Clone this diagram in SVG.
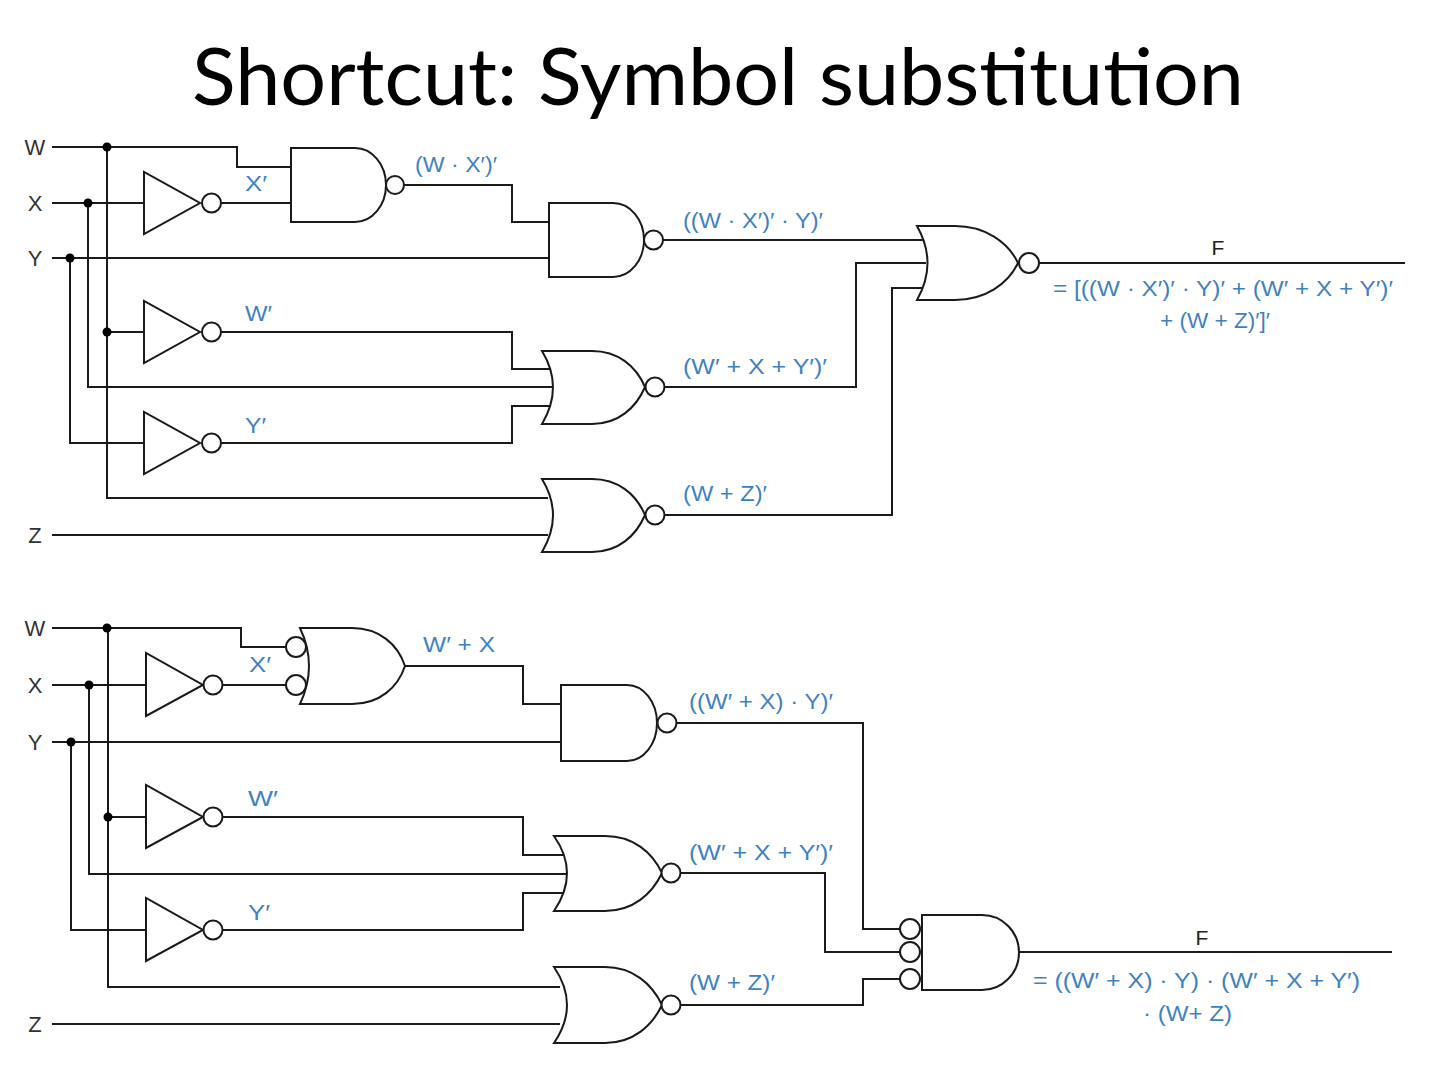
<svg xmlns="http://www.w3.org/2000/svg" width="1440" height="1080" viewBox="0 0 1440 1080">
<style>
.w{fill:none;stroke:#1a1a1a;stroke-width:2}
.g{fill:#fff;stroke:#1a1a1a;stroke-width:2}
.dot{fill:#000}
.lbl{font-family:"Liberation Sans",Arial,sans-serif;font-size:22px;fill:#3f82c4}
.in{font-family:"Liberation Sans",Arial,sans-serif;font-size:22px;fill:#333;text-anchor:middle}
.f{font-family:"Liberation Sans",Arial,sans-serif;font-size:21px;fill:#222;text-anchor:middle}
.title{font-family:Lato,"Open Sans",sans-serif;font-size:80px;fill:#000;text-anchor:middle}
</style>
<defs>
<g id="invT"><path class="g" d="M0,-31 L0,31 L56,0 Z"/><circle class="g" cx="67.5" cy="0" r="9.5"/></g>
<g id="invB"><path class="g" d="M0,-32 L0,31 L57,0 Z"/><circle class="g" cx="67" cy="0" r="9.5"/></g>
</defs>
<rect width="1440" height="1080" fill="#fff"/>
<text class="title" x="718" y="105" textLength="1052" lengthAdjust="spacingAndGlyphs">Shortcut: Symbol substitution</text>

<g id="connectors">
<!-- top circuit -->
<path class="w" d="M52,147 H237 V167 H292"/>
<path class="w" d="M52,203 H144"/>
<path class="w" d="M52,258 H550"/>
<path class="w" d="M52,535 H548"/>
<path class="w" d="M70,258 V443 H144"/>
<path class="w" d="M88,203 V387 H553"/>
<path class="w" d="M107,147 V498 H548"/>
<path class="w" d="M107,332 H144"/>
<path class="w" d="M221,203 H292"/>
<path class="w" d="M404,185 H512 V222 H550"/>
<path class="w" d="M663,240 H924"/>
<path class="w" d="M221,332 H512 V369 H551"/>
<path class="w" d="M221,443 H512 V406 H551"/>
<path class="w" d="M664,387 H856 V263 H926"/>
<path class="w" d="M664,515 H892 V288 H924"/>
<path class="w" d="M1039,263 H1405"/>
<!-- bottom circuit -->
<path class="w" d="M52,628 H241 V647 H286"/>
<path class="w" d="M52,685 H146"/>
<path class="w" d="M52,742 H562"/>
<path class="w" d="M52,1024 H560"/>
<path class="w" d="M71,742 V930 H146"/>
<path class="w" d="M89,685 V874 H566"/>
<path class="w" d="M108,628 V987 H560"/>
<path class="w" d="M108,817 H146"/>
<path class="w" d="M222,685 H286"/>
<path class="w" d="M405,666 H523 V704 H562"/>
<path class="w" d="M677,723 H863 V929 H900"/>
<path class="w" d="M222,817 H523 V855 H563"/>
<path class="w" d="M222,930 H523 V893 H563"/>
<path class="w" d="M680,873 H825 V952 H900"/>
<path class="w" d="M680,1005 H863 V979 H900"/>
<path class="w" d="M1019,952 H1392"/>
<!-- junction dots -->
<circle class="dot" cx="107" cy="147" r="4.5"/>
<circle class="dot" cx="88" cy="203" r="4.5"/>
<circle class="dot" cx="70" cy="258" r="4.5"/>
<circle class="dot" cx="107" cy="332" r="4.5"/>
<circle class="dot" cx="107" cy="628" r="4.5"/>
<circle class="dot" cx="89" cy="685" r="4.5"/>
<circle class="dot" cx="71" cy="742" r="4.5"/>
<circle class="dot" cx="108" cy="817" r="4.5"/>
</g>

<!-- top circuit nodes -->
<g id="in-W-top"><text class="in" x="35" y="155">W</text></g>
<g id="in-X-top"><text class="in" x="35" y="211">X</text></g>
<g id="in-Y-top"><text class="in" x="35" y="266">Y</text></g>
<g id="in-Z-top"><text class="in" x="35" y="543">Z</text></g>

<g id="inv-X-top"><use href="#invT" x="144" y="203"/><text class="lbl" x="245" y="191" textLength="22" lengthAdjust="spacingAndGlyphs">X′</text></g>
<g id="inv-W-top"><use href="#invT" x="144" y="332"/><text class="lbl" x="245" y="321" textLength="27" lengthAdjust="spacingAndGlyphs">W′</text></g>
<g id="inv-Y-top"><use href="#invT" x="144" y="443"/><text class="lbl" x="245" y="433" textLength="21" lengthAdjust="spacingAndGlyphs">Y′</text></g>

<g id="nand1-top">
<path class="g" d="M291,148 H355 A31,37 0 0 1 355,222 H291 Z"/>
<circle class="g" cx="395" cy="185" r="9"/>
<text class="lbl" x="415" y="172" textLength="82" lengthAdjust="spacingAndGlyphs">(W · X′)′</text>
</g>
<g id="nand2-top">
<path class="g" d="M549,203 H613 A31,37 0 0 1 613,277 H549 Z"/>
<circle class="g" cx="653.5" cy="240" r="9.5"/>
<text class="lbl" x="683" y="228" textLength="140" lengthAdjust="spacingAndGlyphs">((W · X′)′ · Y)′</text>
</g>
<g id="nor2-top">
<path class="g" d="M542,351 H592 C618,351 636,366 645,387 C636,408 618,424 592,424 H542 Q564,387 542,351 Z"/>
<circle class="g" cx="655" cy="387" r="9.5"/>
<text class="lbl" x="683" y="374" textLength="144" lengthAdjust="spacingAndGlyphs">(W′ + X + Y′)′</text>
</g>
<g id="nor3-top">
<path class="g" d="M542,479 H592 C618,479 636,494 645,515 C636,536 618,552 592,552 H542 Q564,515 542,479 Z"/>
<circle class="g" cx="655" cy="515" r="9.5"/>
<text class="lbl" x="683" y="501" textLength="84" lengthAdjust="spacingAndGlyphs">(W + Z)′</text>
</g>
<g id="nor-final-top">
<path class="g" d="M917,226 H955 C985,226 1008,242 1018,263 C1008,284 985,300 955,300 H917 Q938,263 917,226 Z"/>
<circle class="g" cx="1029" cy="263" r="10"/>
<text class="f" x="1218" y="255">F</text>
<text class="lbl" x="1053" y="296" textLength="340" lengthAdjust="spacingAndGlyphs">= [((W · X′)′ · Y)′ + (W′ + X + Y′)′</text>
<text class="lbl" x="1160" y="328" textLength="110" lengthAdjust="spacingAndGlyphs">+ (W + Z)′]′</text>
</g>

<!-- bottom circuit nodes -->
<g id="in-W-bot"><text class="in" x="35" y="636">W</text></g>
<g id="in-X-bot"><text class="in" x="35" y="693">X</text></g>
<g id="in-Y-bot"><text class="in" x="35" y="750">Y</text></g>
<g id="in-Z-bot"><text class="in" x="35" y="1032">Z</text></g>

<g id="inv-X-bot"><use href="#invB" x="146" y="685"/><text class="lbl" x="249" y="672" textLength="22" lengthAdjust="spacingAndGlyphs">X′</text></g>
<g id="inv-W-bot"><use href="#invB" x="146" y="817"/><text class="lbl" x="248" y="806" textLength="30" lengthAdjust="spacingAndGlyphs">W′</text></g>
<g id="inv-Y-bot"><use href="#invB" x="146" y="930"/><text class="lbl" x="248" y="920" textLength="22" lengthAdjust="spacingAndGlyphs">Y′</text></g>

<g id="or1-bot">
<path class="g" d="M300,628 H352 C380,628 398,645 405,666 C398,687 380,704 352,704 H300 Q318,666 300,628 Z"/>
<circle class="g" cx="296" cy="647" r="10"/>
<circle class="g" cx="296" cy="685" r="10"/>
<text class="lbl" x="423" y="652" textLength="72" lengthAdjust="spacingAndGlyphs">W′ + X</text>
</g>
<g id="nand-bot">
<path class="g" d="M561,685 H627 A30,38 0 0 1 627,761 H561 Z"/>
<circle class="g" cx="667" cy="723" r="9.5"/>
<text class="lbl" x="689" y="709" textLength="144" lengthAdjust="spacingAndGlyphs">((W′ + X) · Y)′</text>
</g>
<g id="nor2-bot">
<path class="g" d="M554,836 H605 C633,836 652,852 662,873 C652,894 633,911 605,911 H554 Q580,873 554,836 Z"/>
<circle class="g" cx="671" cy="873" r="9.5"/>
<text class="lbl" x="689" y="860" textLength="144" lengthAdjust="spacingAndGlyphs">(W′ + X + Y′)′</text>
</g>
<g id="nor3-bot">
<path class="g" d="M554,967 H605 C633,967 652,984 662,1005 C652,1026 633,1043 605,1043 H554 Q580,1005 554,967 Z"/>
<circle class="g" cx="671" cy="1005" r="9.5"/>
<text class="lbl" x="689" y="990" textLength="86" lengthAdjust="spacingAndGlyphs">(W + Z)′</text>
</g>
<g id="and-final-bot">
<path class="g" d="M922,915 H982 A37,37.5 0 0 1 982,990 H922 Z"/>
<circle class="g" cx="910" cy="929" r="10"/>
<circle class="g" cx="910" cy="952" r="10"/>
<circle class="g" cx="910" cy="979" r="10"/>
<text class="f" x="1202" y="945">F</text>
<text class="lbl" x="1033" y="988" textLength="327" lengthAdjust="spacingAndGlyphs">= ((W′ + X) · Y) · (W′ + X + Y′)</text>
<text class="lbl" x="1143" y="1021" textLength="89" lengthAdjust="spacingAndGlyphs">· (W+ Z)</text>
</g>
</svg>
